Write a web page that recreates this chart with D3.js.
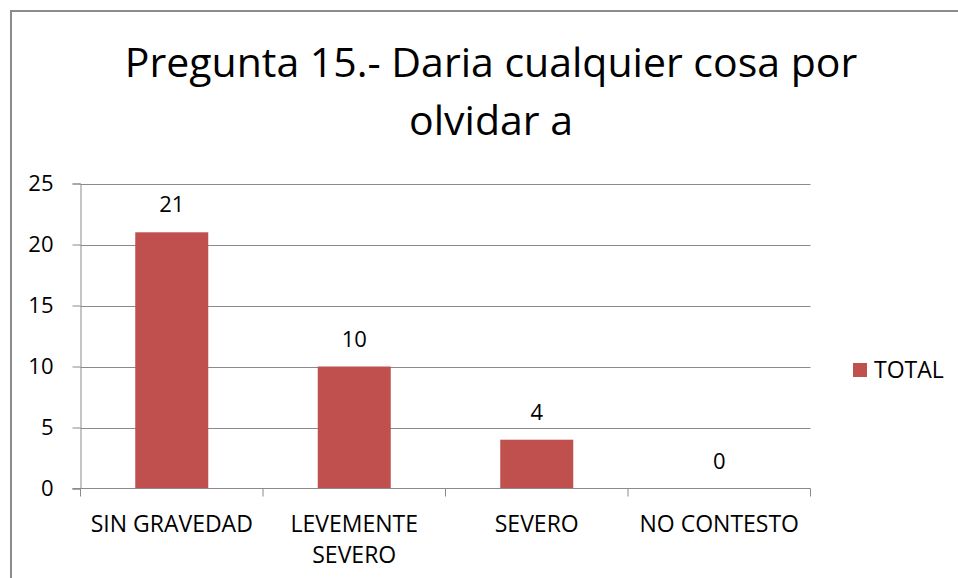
<!DOCTYPE html>
<html>
<head>
<meta charset="utf-8">
<script src="https://cdn.jsdelivr.net/npm/d3@7"></script>
<style>
  html, body { margin: 0; padding: 0; background: #fff; }
  svg { display: block; font-family: "Open Sans", "Noto Sans", sans-serif; }
</style>
</head>
<body>
<svg id="chart" width="958" height="578"></svg>
<script>
// Respuestas a la pregunta 15
const titleLines = ["Pregunta 15.- Daria cualquier cosa por", "olvidar a"];
const categories = ["SIN GRAVEDAD", "LEVEMENTE SEVERO", "SEVERO", "NO CONTESTO"];
const categoryLines = [["SIN GRAVEDAD"], ["LEVEMENTE", "SEVERO"], ["SEVERO"], ["NO CONTESTO"]];
const totals = [21, 10, 4, 0];
const yTicks = [0, 5, 10, 15, 20, 25];
const seriesName = "TOTAL";

const svg = d3.select("#chart");
const W = 958, H = 578;
const plot = { left: 80.5, right: 810.5, top: 183.5, bottom: 488.5 };
const barColor = "#C0504D";
const gridColor = "#8A8A8A";

// outer chart frame
svg.append("rect")
  .attr("x", 11).attr("y", 11)
  .attr("width", W).attr("height", H)
  .attr("fill", "#fff")
  .attr("stroke", "#8C8C8C").attr("stroke-width", 2);

// title
const title = svg.append("text")
  .attr("text-anchor", "middle")
  .attr("font-size", 41)
  .attr("fill", "#000");
titleLines.forEach((t, i) => {
  title.append("tspan").attr("x", 491).attr("y", 77 + i * 58).text(t);
});

const x = d3.scaleBand()
  .domain(categories)
  .range([plot.left, plot.right])
  .paddingInner(0.6)
  .paddingOuter(0.3);

const xBand = d3.scaleBand()
  .domain(categories)
  .range([plot.left, plot.right]);

const y = d3.scaleLinear()
  .domain([0, 25])
  .range([plot.bottom, plot.top]);

// horizontal gridlines
svg.append("g")
  .selectAll("line")
  .data(yTicks.filter(d => d > 0))
  .join("line")
  .attr("x1", plot.left).attr("x2", plot.right)
  .attr("y1", d => Math.round(y(d)) + 0.5).attr("y2", d => Math.round(y(d)) + 0.5)
  .attr("stroke", gridColor).attr("stroke-width", 1);

// y axis
const yAxis = svg.append("g")
  .attr("transform", `translate(${plot.left},0)`)
  .call(d3.axisLeft(y).tickValues(yTicks).tickSize(8).tickPadding(19).tickFormat(d3.format("d")));
yAxis.select(".domain").attr("stroke", gridColor);
yAxis.selectAll(".tick line").attr("stroke", gridColor);
yAxis.selectAll(".tick text")
  .attr("font-size", 22)
  .attr("font-family", "Open Sans, Noto Sans, sans-serif")
  .attr("fill", "#000");

// bars
svg.append("g")
  .selectAll("rect")
  .data(categories)
  .join("rect")
  .attr("x", d => x(d))
  .attr("width", x.bandwidth())
  .attr("y", (d, i) => y(totals[i]))
  .attr("height", (d, i) => y(0) - y(totals[i]))
  .attr("fill", barColor);

// value labels
svg.append("g")
  .selectAll("text")
  .data(categories)
  .join("text")
  .attr("x", d => xBand(d) + xBand.bandwidth() / 2)
  .attr("y", (d, i) => y(totals[i]) - 20)
  .attr("text-anchor", "middle")
  .attr("font-size", 22)
  .attr("fill", "#000")
  .text((d, i) => totals[i]);

// x axis with tick marks on band boundaries
const xAxis = svg.append("g")
  .attr("transform", `translate(0,${plot.bottom})`);
xAxis.append("line")
  .attr("x1", plot.left - 8).attr("x2", plot.right)
  .attr("stroke", gridColor);
xAxis.selectAll("line.tk")
  .data(categories.map(d => xBand(d)).concat([plot.right]))
  .join("line")
  .attr("class", "tk")
  .attr("x1", d => d).attr("x2", d => d)
  .attr("y1", 0).attr("y2", 8)
  .attr("stroke", gridColor);

const catLabels = xAxis.selectAll("text.cat")
  .data(categories)
  .join("text")
  .attr("class", "cat")
  .attr("text-anchor", "middle")
  .attr("font-size", 23)
  .attr("fill", "#000");
catLabels.each(function(d, i) {
  const el = d3.select(this);
  categoryLines[i].forEach((ln, j) => {
    el.append("tspan")
      .attr("x", xBand(d) + xBand.bandwidth() / 2)
      .attr("y", 43 + j * 31)
      .text(ln);
  });
});

// legend
const legend = svg.append("g").attr("transform", "translate(853,363)");
legend.append("rect").attr("width", 14).attr("height", 14).attr("fill", barColor);
legend.append("text")
  .attr("x", 21).attr("y", 15)
  .attr("font-size", 23)
  .attr("fill", "#000")
  .text(seriesName);
</script>
</body>
</html>
